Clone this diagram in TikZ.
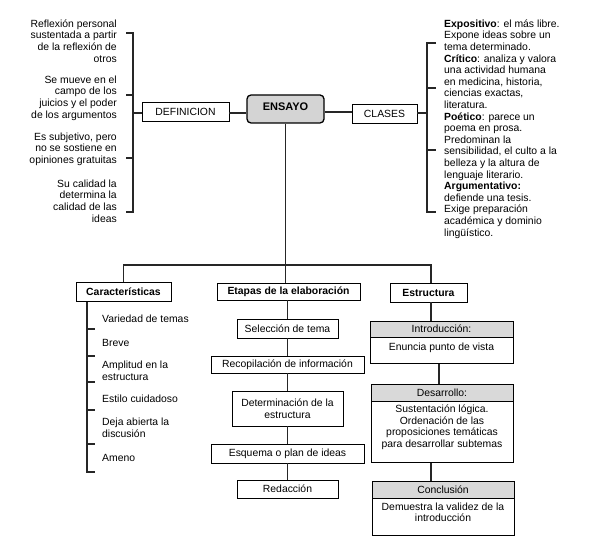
\documentclass[tikz,border=0pt]{standalone}
\usepackage{fontspec}
\setmainfont{Liberation Sans}
\usetikzlibrary{positioning}
\begin{document}
\begin{tikzpicture}[x=1pt,y=-1pt,
    box/.style={draw,line width=0.8pt,inner sep=1pt,align=center,font=\fontsize{10.4}{11.6}\selectfont},
    head/.style={box,fill=black!15},
    conn/.style={line width=1.6pt,black!85},
    txt/.style={inner sep=0pt,font=\fontsize{10.4}{11.6}\selectfont}]
    \useasboundingbox (0,0) rectangle (610,548);
    % centre
    \node[box,rounded corners=4pt,line width=1.3pt,fill=black!17,minimum width=77pt,
          inner sep=1.5pt,text height=14pt,text depth=11pt,font=\fontsize{11}{13}\selectfont\bfseries] (ensayo) at (285.5,109) {ENSAYO};
    \node[box,minimum width=87pt,minimum height=19pt] (defin) at (185.5,111.5) {DEFINICION};
    \node[box,minimum width=65pt,minimum height=19pt] (clases) at (384.5,113.5) {CLASES};
    \draw[conn] (defin.east |- 0,113) -- (ensayo.west |- 0,113);
    \draw[conn] (ensayo.east |- 0,112) -- (clases.west |- 0,112);
    % definicion
    \node[txt,align=right,anchor=east] (def1) at (117,41) {Reflexión personal\\sustentada a partir\\de la reflexión de\\otros};
    \node[txt,align=right,anchor=east] (def2) at (117,98) {Se mueve en el\\campo de los\\juicios y el poder\\de los argumentos};
    \node[txt,align=right,anchor=east] (def3) at (117,149) {Es subjetivo, pero\\no se sostiene en\\opiniones gratuitas};
    \node[txt,align=right,anchor=east] (def4) at (117,201) {Su calidad la\\determina la\\calidad de las\\ideas};
    \coordinate (dtop) at (133,33);
    \coordinate (dbot) at (133,212);
    \draw[conn] (dtop) ++(-7,0) -- (dtop) -- (dbot) -- ++(-7,0);
    \foreach \y in {95,158}
        \draw[conn] (126,\y) -- (133,\y);
    \draw[conn] (defin.west |- 0,113) -- (dtop |- 0,113);
    % clases
    \node[txt,align=left,anchor=north west] (cls) at (444,19.5) {\textbf{Expositivo}: el más libre.\\Expone ideas sobre un\\tema determinado.\\
        \textbf{Crítico}: analiza y valora\\una actividad humana\\en medicina, historia,\\ciencias exactas,\\literatura.\\
        \textbf{Poético}: parece un\\poema en prosa.\\Predominan la\\sensibilidad, el culto a la\\belleza y la altura de\\lenguaje literario.\\
        \textbf{Argumentativo:}\\defiende una tesis.\\Exige preparación\\académica y dominio\\lingüístico.};
    \coordinate (ctop) at (427,43);
    \coordinate (cbot) at (427,212);
    \draw[conn] (ctop) ++(9,0) -- (ctop) -- (cbot) -- ++(9,0);
    \foreach \y in {88,150}
        \draw[conn] (427,\y) -- (436,\y);
    \draw[conn] (clases.east |- 0,113) -- (ctop |- 0,113);
    % ramas de abajo
    \node[box,minimum width=95pt,minimum height=19pt] (car) at (123.5,292) {\bfseries Características};
    \node[box,minimum width=143pt,minimum height=17pt] (etapas) at (288.5,291.5) {\bfseries Etapas de la elaboración};
    \node[box,minimum width=77pt,minimum height=19pt] (estr) at (428.5,292.5) {\bfseries Estructura};
    \coordinate (busl) at (124,265);
    \coordinate (busr) at (431,265);
    \draw[conn] (ensayo.south) -- (ensayo.south |- etapas.north);
    \draw[conn] (car.north) -- (car.north |- busl) -- (busr) -- (busr |- estr.north);
    % caracteristicas
    \foreach \t/\y [count=\i] in {Variedad de temas/319, Breve/343, {Amplitud en la\\estructura}/371,
        Estilo cuidadoso/399, {Deja abierta la\\discusión}/428, Ameno/458}
        \node[txt,align=left,anchor=west] (item\i) at (102,\y) {\t};
    \coordinate (cspine) at (87,472);
    \draw[conn] (car.south -| cspine) -- (cspine) -- ++(8,0);
    \foreach \y in {329,356,382,410,444}
        \draw[conn] (87,\y) -- (95,\y);
    % etapas
    \node[box,minimum width=101pt,minimum height=19pt] (sel) at (287.5,328.5) {Selección de tema};
    \node[box,minimum width=153pt,minimum height=17pt] (rec) at (287.5,364.5) {Recopilación de información};
    \node[box,minimum width=111pt,minimum height=35pt] (det) at (287.5,408.5) {Determinación de la\\estructura};
    \node[box,minimum width=153pt,minimum height=19pt] (esq) at (287.5,453.5) {Esquema o plan de ideas};
    \node[box,minimum width=101pt,minimum height=18pt] (red) at (287.5,489) {Redacción};
    \foreach \a/\b in {etapas/sel,sel/rec,rec/det,det/esq,esq/red}
        \draw[conn] (\a.south -| sel) -- (\b.north -| sel);
    % estructura
    \node[head,minimum width=143pt,minimum height=16pt] (introh) at (441.5,329) {Introducción:};
    \node[box,minimum width=143pt,minimum height=26pt,text depth=8pt,below=0pt of introh] (introb) {Enuncia punto de vista};
    \node[head,minimum width=142pt,minimum height=17pt] (desh) at (442,392.5) {Desarrollo:};
    \node[box,minimum width=142pt,minimum height=61pt,text depth=12pt,below=0pt of desh] (desb) {Sustentación lógica.\\Ordenación de las\\proposiciones temáticas\\para desarrollar subtemas};
    \node[head,minimum width=142pt,minimum height=17pt] (conh) at (443,489.5) {Conclusión};
    \node[box,minimum width=142pt,minimum height=37pt,text depth=10pt,below=0pt of conh] (conb) {Demuestra la validez de la\\introducción};
    \draw[conn] (estr.south -| busr) -- (introh.north -| busr);
    \draw[conn] (introb.south -| 439,0) -- (desh.north -| 439,0);
    \draw[conn] (desb.south -| busr) -- (conh.north -| busr);
\end{tikzpicture}
\end{document}
